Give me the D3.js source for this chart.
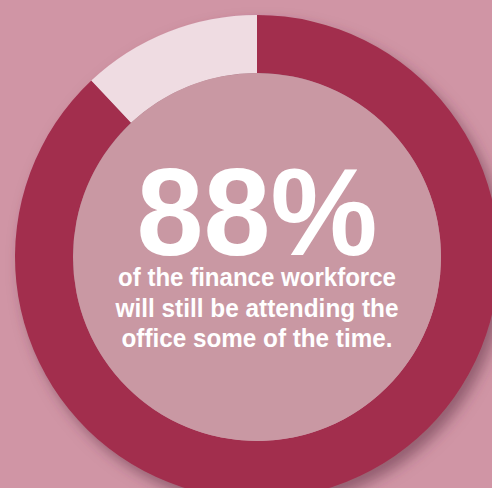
<!DOCTYPE html>
<html>
<head>
<meta charset="utf-8">
<script src="https://cdn.jsdelivr.net/npm/d3@7"></script>
<style>
  html, body { margin: 0; padding: 0; background: #d095a5; }
  svg { display: block; }
</style>
</head>
<body>
<div id="chart"></div>
<script>
// Share of the finance workforce still attending the office some of the time
const categories = ["Attending the office", "Fully remote"];
const values = [88, 12];
const headline = "88%";
const captionLines = [
  "of the finance workforce",
  "will still be attending the",
  "office some of the time."
];

const width = 492, height = 488;
const cx = 257, cy = 257;
const outerR = 242, innerR = 184;

const colors = d3.scaleOrdinal()
  .domain(categories)
  .range(["#a22e4e", "url(#lightSeg)"]);

const svg = d3.select("#chart").append("svg")
  .attr("width", width)
  .attr("height", height);

const defs = svg.append("defs");

const shadow = defs.append("filter")
  .attr("id", "ringShadow")
  .attr("x", "-20%").attr("y", "-20%")
  .attr("width", "140%").attr("height", "140%");
shadow.append("feDropShadow")
  .attr("dx", 6).attr("dy", 8)
  .attr("stdDeviation", 7)
  .attr("flood-color", "#5e3344")
  .attr("flood-opacity", 0.55);

const grad = defs.append("linearGradient")
  .attr("id", "lightSeg")
  .attr("gradientUnits", "userSpaceOnUse")
  .attr("x1", 60).attr("y1", 80)
  .attr("x2", 160).attr("y2", 180);
grad.append("stop").attr("offset", 0).attr("stop-color", "#efdce2");
grad.append("stop").attr("offset", 1).attr("stop-color", "#dcc9ce");

svg.append("rect")
  .attr("width", width).attr("height", height)
  .attr("fill", "#d095a5");

const pie = d3.pie()
  .sort(null)
  .value(d => d.value)
  .startAngle(0)
  .endAngle(2 * Math.PI);

const arc = d3.arc()
  .innerRadius(innerR)
  .outerRadius(outerR);

const data = categories.map((c, i) => ({ category: c, value: values[i] }));

const ring = svg.append("g")
  .attr("transform", `translate(${cx},${cy})`)
  .attr("filter", "url(#ringShadow)");

ring.selectAll("path")
  .data(pie(data))
  .join("path")
  .attr("d", arc)
  .attr("fill", d => colors(d.data.category));

// centre disc
svg.append("circle")
  .attr("cx", cx).attr("cy", cy)
  .attr("r", innerR)
  .attr("fill", "#c998a3");

svg.append("text")
  .attr("x", cx)
  .attr("y", 255)
  .attr("text-anchor", "middle")
  .attr("font-family", "Liberation Sans, Arial, sans-serif")
  .attr("font-weight", "bold")
  .attr("font-size", 125)
  .attr("textLength", 241)
  .attr("lengthAdjust", "spacingAndGlyphs")
  .attr("fill", "#ffffff")
  .text(headline);

const lineWidths = [278, 283, 271];
svg.append("g")
  .selectAll("text")
  .data(captionLines)
  .join("text")
  .attr("x", cx)
  .attr("y", (d, i) => 286 + i * 30.5)
  .attr("text-anchor", "middle")
  .attr("font-family", "Liberation Sans, Arial, sans-serif")
  .attr("font-weight", "bold")
  .attr("font-size", 25)
  .attr("textLength", (d, i) => lineWidths[i])
  .attr("lengthAdjust", "spacingAndGlyphs")
  .attr("fill", "#ffffff")
  .text(d => d);
</script>
</body>
</html>
